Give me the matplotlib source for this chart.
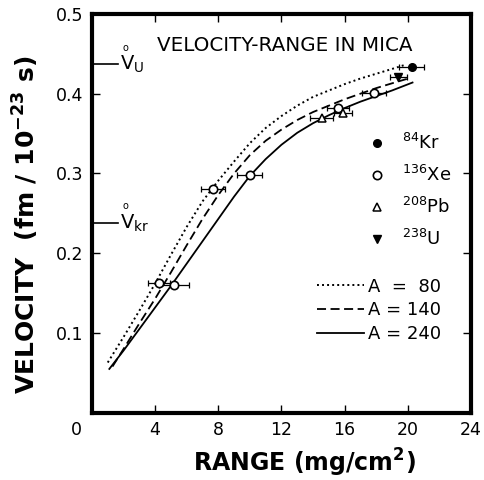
import numpy as np
import matplotlib
matplotlib.use("Agg")
import matplotlib.pyplot as plt
import matplotlib.transforms as mtransforms

# calculated velocity-range curves
x_a80 = [1.0, 2.0, 3.0, 4.0, 5.0, 6.0, 7.0, 8.0, 9.0, 10.0, 11.0, 12.0, 13.0, 14.0, 15.0, 16.0, 17.0, 18.0, 19.0, 19.8]
y_a80 = [0.063, 0.095, 0.128, 0.162, 0.198, 0.233, 0.265, 0.291, 0.315, 0.338, 0.357, 0.372, 0.385, 0.396, 0.404, 0.412, 0.419, 0.425, 0.431, 0.436]
x_a140 = [1.3, 2.0, 3.0, 4.0, 5.0, 6.0, 7.0, 8.0, 9.0, 10.0, 11.0, 12.0, 13.0, 14.0, 15.0, 16.0, 17.0, 18.0, 19.0, 20.2]
y_a140 = [0.058, 0.080, 0.112, 0.143, 0.176, 0.210, 0.243, 0.273, 0.300, 0.323, 0.341, 0.355, 0.367, 0.377, 0.385, 0.393, 0.400, 0.407, 0.413, 0.420]
x_a240 = [1.1, 2.0, 3.0, 4.0, 5.0, 6.0, 7.0, 8.0, 9.0, 10.0, 11.0, 12.0, 13.0, 14.0, 15.0, 16.0, 17.0, 18.0, 19.0, 20.3]
y_a240 = [0.055, 0.078, 0.105, 0.132, 0.159, 0.187, 0.215, 0.243, 0.271, 0.297, 0.318, 0.336, 0.351, 0.363, 0.373, 0.382, 0.390, 0.397, 0.404, 0.414]

# measured points: range, velocity, range error
kr_x = [20.25]
kr_y = [0.434]
kr_err = [0.8]
xe_x = [4.24, 5.19, 7.66, 10.0, 15.57, 17.85]
xe_y = [0.163, 0.160, 0.281, 0.298, 0.382, 0.401]
xe_err = [0.7, 0.95, 0.75, 0.8, 0.7, 0.75]
pb_x = [14.56, 15.89]
pb_y = [0.370, 0.376]
pb_err = [0.73, 0.57]
u_x = [19.4]
u_y = [0.421]
u_err = [0.55]

# maximum velocities marked on the axis
v_marks = [0.437, 0.238]
v_names = [r"V$_{\mathrm{U}}$", r"V$_{\mathrm{kr}}$"]

xticks = [0, 4, 8, 12, 16, 20, 24]
yticks = [0.1, 0.2, 0.3, 0.4, 0.5]

fig = plt.figure(figsize=(4.84, 4.8), dpi=100)
ax = fig.add_axes([0.190, 0.140, 0.783, 0.831])

l80, = ax.plot(x_a80, y_a80, color="black", lw=1.4, linestyle=(0, (1, 1.6)))
l140, = ax.plot(x_a140, y_a140, color="black", lw=1.3, linestyle=(0, (5, 2.5)))
l240, = ax.plot(x_a240, y_a240, color="black", lw=1.3)

eb = dict(fmt="none", ecolor="black", elinewidth=0.9, capsize=2.5, capthick=0.9, zorder=3)
ax.errorbar(kr_x, kr_y, xerr=kr_err, **eb)
ax.errorbar(xe_x, xe_y, xerr=xe_err, **eb)
ax.errorbar(pb_x, pb_y, xerr=pb_err, **eb)
ax.errorbar(u_x, u_y, xerr=u_err, **eb)

hkr, = ax.plot(kr_x, kr_y, "o", color="black", ms=5.5, zorder=4)
hxe, = ax.plot(xe_x, xe_y, "o", mfc="white", mec="black", mew=1.2, ms=6, zorder=4)
hpb, = ax.plot(pb_x, pb_y, "^", mfc="white", mec="black", mew=1.1, ms=5.5, zorder=4)
hu, = ax.plot(u_x, u_y, "v", color="black", ms=5.5, zorder=4)

for v, name in zip(v_marks, v_names):
    ax.axhline(v, xmin=0, xmax=0.068, color="black", lw=1.2)
    ax.text(1.75, v, name, fontsize=14, va="center", ha="left")
    # small ring over the V
    t = ax.text(2.15, v, "o", fontsize=7, va="bottom", ha="center")
    t.set_transform(ax.transData + mtransforms.ScaledTranslation(0, 0.115, fig.dpi_scale_trans))

ax.text(12.2, 0.461, "VELOCITY-RANGE IN MICA", fontsize=14.3, ha="center", va="center")

leg1 = ax.legend([hkr, hxe, hpb, hu],
                 [r"$^{84}$Kr", r"$^{136}$Xe", r"$^{208}$Pb", r"$^{238}$U"],
                 loc="upper left", bbox_to_anchor=(0.708, 0.72), frameon=False,
                 fontsize=13, handletextpad=0.9, labelspacing=0.66, handlelength=1.0,
                 borderaxespad=0)
ax.add_artist(leg1)
ax.legend([l80, l140, l240], ["A  =  80", "A = 140", "A = 240"],
          loc="upper left", bbox_to_anchor=(0.575, 0.357), frameon=False,
          fontsize=13, handlelength=2.6, handletextpad=0.2, labelspacing=0.32,
          borderaxespad=0)

ax.set_xlim(0, 24)
ax.set_ylim(0, 0.5)
ax.set_xticks(xticks)
ax.set_yticks(yticks)
ax.set_yticklabels(["%.1f" % t for t in yticks])
ax.tick_params(direction="in", length=6, width=1, top=True, right=True,
               labelsize=12.5, pad=6)
for s in ax.spines.values():
    s.set_linewidth(3)

# the "0" on the range axis sits left of the corner
lab0 = ax.get_xticklabels()[0]
lab0.set_transform(lab0.get_transform() + mtransforms.ScaledTranslation(-0.16, 0, fig.dpi_scale_trans))

ax.set_xlabel(r"RANGE (mg/cm$^{\mathbf{2}}$)", fontsize=17, fontweight="bold")
ax.set_ylabel(r"VELOCITY  (fm / 10$^{\mathbf{-23}}$ s)", fontsize=18, fontweight="bold")
ax.xaxis.set_label_coords(0.56, -0.085)
ax.yaxis.set_label_coords(-0.135, 0.471)

fig.savefig("out.png", dpi=100)
